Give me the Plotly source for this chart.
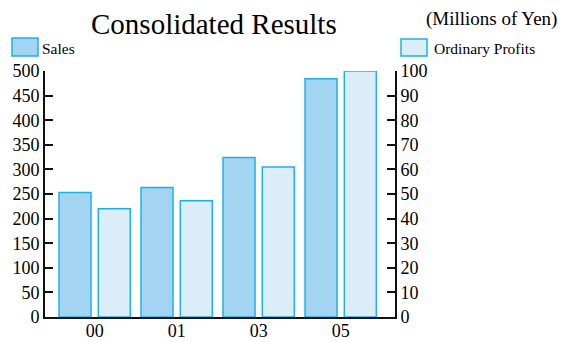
import plotly.graph_objects as go

years = ["00", "01", "03", "05"]
sales = [253, 263, 324, 484]
profits = [44, 47.3, 61, 100]

sales_fill = "#a3d5f2"
profit_fill = "#dcedfa"
edge = "#1ab2ec"
FONT = "Liberation Serif"

L, R, T, B = 45, 395, 71, 317
W, H = 561, 342


def px(x):
    return (x - L) / (R - L)


def py(y):
    return (B - y) / (B - T)


fig = go.Figure()
fig.add_trace(go.Bar(
    x=years, y=sales, name="Sales", yaxis="y",
    marker=dict(color=sales_fill, line=dict(color=edge, width=1.5)),
    width=0.39, offset=-0.435, showlegend=False,
))
fig.add_trace(go.Bar(
    x=years, y=profits, name="Ordinary Profits", yaxis="y2",
    marker=dict(color=profit_fill, line=dict(color=edge, width=1.5)),
    width=0.39, offset=0.044, showlegend=False,
))

fig.update_layout(
    width=W, height=H,
    margin=dict(l=L, r=W - R, t=T, b=H - B, pad=0, autoexpand=False),
    paper_bgcolor="white", plot_bgcolor="white",
    font=dict(family=FONT, color="black", size=18),
    xaxis=dict(
        type="category", range=[-0.606, 3.662], automargin=False,
        showline=True, linecolor="#111", linewidth=2,
        ticks="", showgrid=False, zeroline=False, ticklabelstandoff=-4,
        tickfont=dict(size=18),
    ),
    yaxis=dict(
        range=[0, 500], dtick=50, showline=True, linecolor="#111", linewidth=2,
        ticks="inside", ticklen=8, tickwidth=2, tickcolor="#111", automargin=False,
        showgrid=False, zeroline=False, tickfont=dict(size=18),
    ),
    yaxis2=dict(
        range=[0, 100], dtick=10, overlaying="y", side="right",
        showline=True, linecolor="#111", linewidth=2, automargin=False,
        ticks="inside", ticklen=8, tickwidth=2, tickcolor="#111",
        showgrid=False, zeroline=False, tickfont=dict(size=18),
    ),
    shapes=[
        dict(type="rect", xref="paper", yref="paper",
             x0=px(12), x1=px(38), y0=py(56), y1=py(38),
             fillcolor=sales_fill, line=dict(color=edge, width=1.5)),
        dict(type="rect", xref="paper", yref="paper",
             x0=px(401), x1=px(427), y0=py(56), y1=py(39),
             fillcolor=profit_fill, line=dict(color=edge, width=1.5)),
    ],
    annotations=[
        dict(text="Consolidated Results", xref="paper", yref="paper",
             x=px(213.7), y=py(24), xanchor="center", yanchor="middle",
             showarrow=False, font=dict(size=29)),
        dict(text="(Millions of Yen)", xref="paper", yref="paper",
             x=px(559), y=py(19), xanchor="right", yanchor="middle",
             showarrow=False, font=dict(size=19)),
        dict(text="Sales", xref="paper", yref="paper",
             x=px(40), y=py(48), xanchor="left", yanchor="middle",
             showarrow=False, font=dict(size=15.5)),
        dict(text="Ordinary Profits", xref="paper", yref="paper",
             x=px(431.5), y=py(48), xanchor="left", yanchor="middle",
             showarrow=False, font=dict(size=15.5)),
    ],
)

fig.write_html(
    "out.html",
    config={"displayModeBar": False},
    post_script="document.body.style.margin='0';document.body.style.padding='0';",
)
